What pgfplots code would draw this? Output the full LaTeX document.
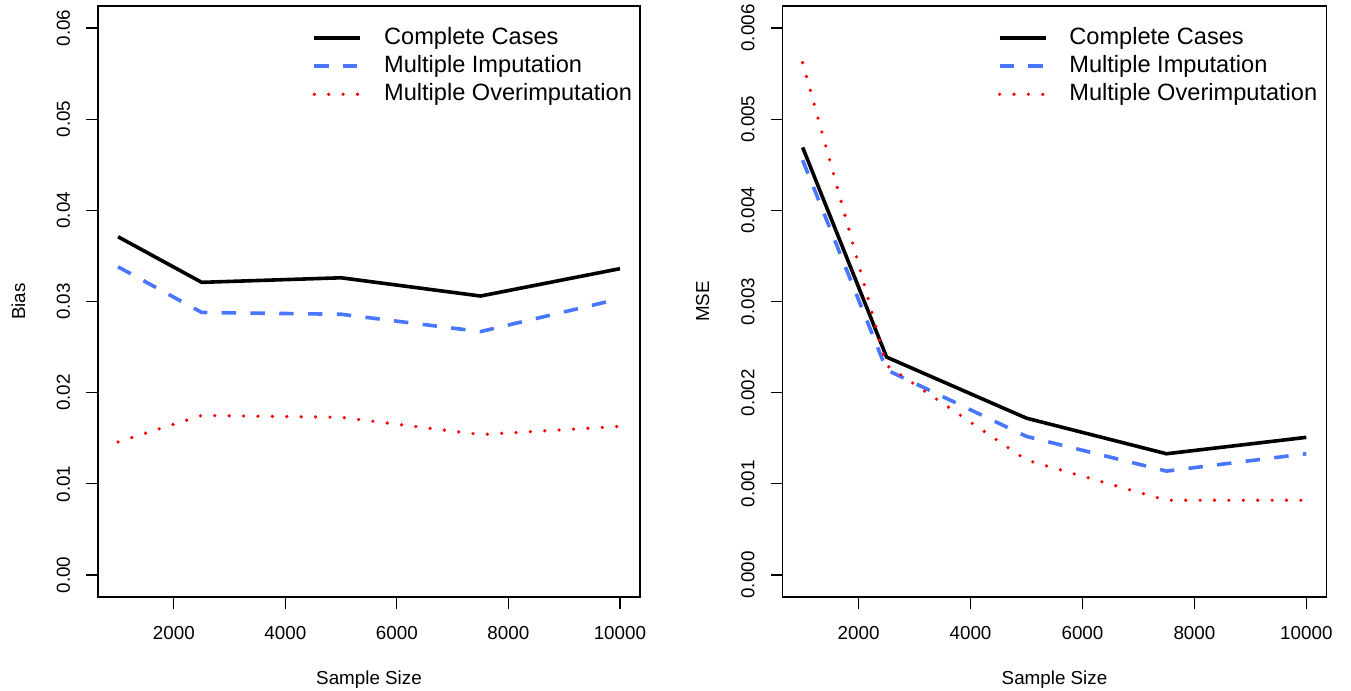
\documentclass[border=0pt]{standalone}
\usepackage{fontspec}
\setmainfont{Liberation Sans}
\usepackage{pgfplots}
\pgfplotsset{compat=1.18}
\definecolor{miblue}{RGB}{72,118,255}
\definecolor{mored}{RGB}{255,0,0}

\pgfplotsset{
  rplot/.style={
    scale only axis, width=271pt, height=295.4pt, anchor=south west,
    xmin=640, xmax=10360,
    xtick={2000,4000,6000,8000,10000},
    scaled x ticks=false, scaled y ticks=false,
    xtick pos=bottom, ytick pos=left,
    tick align=outside, major tick length=5.8pt,
    every tick/.style={black, line width=0.6pt},
    axis line style={line width=0.75pt},
    /pgf/number format/assume math mode=true,
    xticklabel style={/pgf/number format/1000 sep={}, /pgf/number format/fixed, yshift=-5.5pt},
    tick label style={font=\fontsize{9.4}{11}\selectfont},
    label style={font=\fontsize{9.4}{11}\selectfont},
    yticklabel style={xshift=-8.3pt, rotate=90, anchor=base, /pgf/number format/fixed, /pgf/number format/fixed zerofill},
    xlabel={Sample Size},
    xlabel style={at={(axis description cs:0.5,-0.1407)}, anchor=center},
    ylabel style={at={(axis description cs:-0.1467,0.5)}, anchor=center},
    legend style={draw=none, fill=none, at={(axis description cs:0.395,0.9665)},
      anchor=north west, font=\fontsize{11.8}{14}\selectfont,
      inner sep=0pt, row sep=2pt, column sep=11pt,
      nodes={inner sep=0pt, text height=9pt, text depth=3pt}},
    legend cell align=left,
    legend image code/.code={\draw[#1] (0pt,0pt) -- (23pt,0pt);},
  },
  cc/.style={black, line width=1.8pt},
  mi/.style={miblue, line width=1.8pt, dash pattern=on 7.2pt off 7.2pt},
  mo/.style={mored, line width=1.8pt, line cap=round, dash pattern=on 0pt off 7.2pt},
}

\begin{document}
\begin{tikzpicture}
\useasboundingbox (0,0) rectangle (675.5pt,345.5pt);

\begin{axis}[rplot, at={(49pt,47.05pt)},
  ymin=-0.0024, ymax=0.0624,
  ytick={0,0.01,0.02,0.03,0.04,0.05,0.06},
  yticklabel style={/pgf/number format/precision=2},
  ylabel={Bias}]
\addplot[cc] coordinates {(1000,0.0371) (2500,0.0321) (5000,0.0326) (7500,0.0306) (10000,0.0336)};
\addlegendentry{Complete Cases}
\addplot[mi] coordinates {(1000,0.0338) (2500,0.0288) (5000,0.0286) (7500,0.0267) (10000,0.0303)};
\addlegendentry{Multiple Imputation}
\addplot[mo] coordinates {(1000,0.0146) (2500,0.0175) (5000,0.0173) (7500,0.0154) (10000,0.0163)};
\addlegendentry{Multiple Overimputation}
\end{axis}

\begin{axis}[rplot, at={(391.25pt,47.05pt)}, width=272pt,
  ymin=-0.00024, ymax=0.00624,
  ytick={0,0.001,0.002,0.003,0.004,0.005,0.006},
  yticklabel style={/pgf/number format/precision=3},
  ylabel={MSE}]
\addplot[cc] coordinates {(1000,0.00469) (2500,0.00239) (5000,0.00172) (7500,0.00133) (10000,0.00151)};
\addlegendentry{Complete Cases}
\addplot[mi] coordinates {(1000,0.00455) (2500,0.00225) (5000,0.00152) (7500,0.00114) (10000,0.00133)};
\addlegendentry{Multiple Imputation}
\addplot[mo] coordinates {(1000,0.00562) (2500,0.00230) (5000,0.00126) (7500,0.00082) (10000,0.00082)};
\addlegendentry{Multiple Overimputation}
\end{axis}
\end{tikzpicture}
\end{document}
